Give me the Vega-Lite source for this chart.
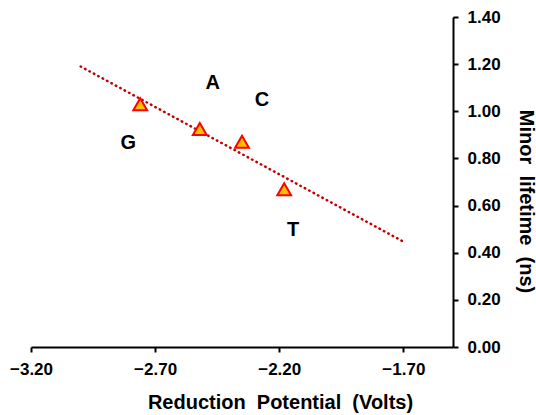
{
  "$schema": "https://vega.github.io/schema/vega-lite/v6.json",
  "width": 422,
  "height": 330,
  "autosize": "none",
  "padding": {"left": 31, "top": 17, "right": 83, "bottom": 68},
  "background": "white",
  "config": {
    "view": {"stroke": null},
    "font": "Liberation Sans",
    "axis": {"grid": false, "domainColor": "#000000", "tickColor": "#000000", "domainWidth": 2, "tickWidth": 2, "tickSize": 5, "labelFont": "Liberation Sans", "labelFontWeight": "bold", "labelFontSize": 17, "labelColor": "#000000", "titleFont": "Liberation Sans", "titleFontWeight": "bold", "titleFontSize": 20, "titleColor": "#000000"}
  },
  "datasets": {
    "points": [
      {"base": "G", "potential": -2.76, "lifetime": 1.03},
      {"base": "A", "potential": -2.52, "lifetime": 0.925},
      {"base": "C", "potential": -2.35, "lifetime": 0.871},
      {"base": "T", "potential": -2.18, "lifetime": 0.669}
    ],
    "trend": [
      {"potential": -3.0, "lifetime": 1.19},
      {"potential": -1.7, "lifetime": 0.447}
    ]
  },
  "encoding": {
    "x": {"field": "potential", "type": "quantitative", "scale": {"domain": [-3.2, -1.5], "nice": false, "zero": false},
      "axis": {"values": [-3.2, -2.7, -2.2, -1.7], "format": ".2f", "title": "Reduction\u00a0\u00a0Potential\u00a0\u00a0(Volts)", "labelPadding": 9, "titleX": 249, "titleY": 55, "titleAlign": "center", "titleBaseline": "middle", "labelFlush": false}},
    "y": {"field": "lifetime", "type": "quantitative", "scale": {"domain": [0, 1.4], "nice": false},
      "axis": {"orient": "right", "values": [0, 0.2, 0.4, 0.6, 0.8, 1.0, 1.2, 1.4], "format": ".2f", "title": "Minor\u00a0\u00a0lifetime\u00a0\u00a0(ns)", "titleAngle": 90, "labelPadding": 9, "titleX": 72, "titleY": 184, "titleAlign": "center", "titleBaseline": "middle", "labelFlush": false}}
  },
  "layer": [
    {"data": {"name": "trend"}, "mark": {"type": "line", "color": "#C00000", "strokeWidth": 2.5, "strokeDash": [0.5, 4.5], "strokeCap": "round"}},
    {"data": {"name": "points"}, "mark": {"type": "point", "shape": "triangle-up", "filled": true, "fill": "#FFC000", "stroke": "#FF0000", "strokeWidth": 2, "size": 190, "opacity": 1}},
    {"data": {"name": "points"}, "transform": [{"filter": "datum.base == 'G'"}], "mark": {"type": "text", "fontSize": 20, "fontWeight": "bold", "baseline": "middle", "dx": -12, "dy": 39, "color": "#000000"}, "encoding": {"text": {"field": "base"}}},
    {"data": {"name": "points"}, "transform": [{"filter": "datum.base == 'A'"}], "mark": {"type": "text", "fontSize": 20, "fontWeight": "bold", "baseline": "middle", "dx": 13, "dy": -46, "color": "#000000"}, "encoding": {"text": {"field": "base"}}},
    {"data": {"name": "points"}, "transform": [{"filter": "datum.base == 'C'"}], "mark": {"type": "text", "fontSize": 20, "fontWeight": "bold", "baseline": "middle", "dx": 20, "dy": -42, "color": "#000000"}, "encoding": {"text": {"field": "base"}}},
    {"data": {"name": "points"}, "transform": [{"filter": "datum.base == 'T'"}], "mark": {"type": "text", "fontSize": 20, "fontWeight": "bold", "baseline": "middle", "dx": 9, "dy": 41, "color": "#000000"}, "encoding": {"text": {"field": "base"}}}
  ]
}
